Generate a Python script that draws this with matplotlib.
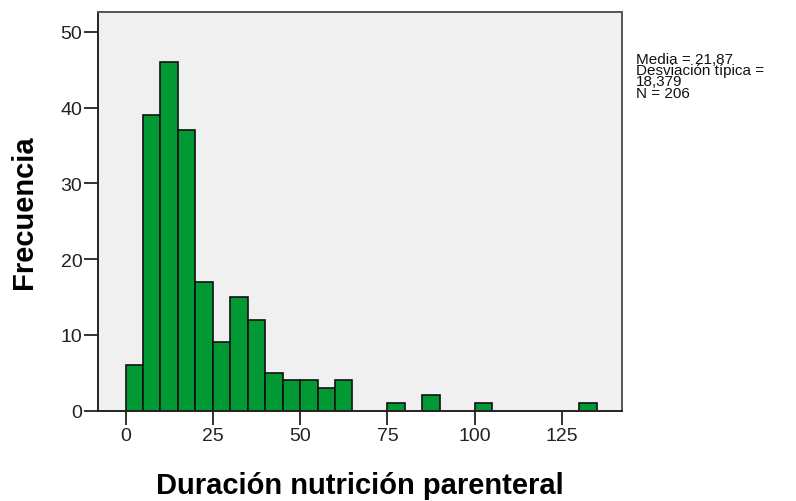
import numpy as np
import matplotlib
matplotlib.use("Agg")
import matplotlib.pyplot as plt

plt.rcParams['font.family'] = ['Liberation Sans', 'DejaVu Sans']

# =========================
# DATA (bin width 5)
# =========================
bin_left = [0, 5, 10, 15, 20, 25, 30, 35, 40, 45, 50, 55, 60, 75, 85, 100, 130]
counts = [6, 39, 46, 37, 17, 9, 15, 12, 5, 4, 4, 3, 4, 1, 2, 1, 1]
bin_width = 5
x_ticks = [0, 25, 50, 75, 100, 125]
y_ticks = [0, 10, 20, 30, 40, 50]
stats_lines = ["Media = 21,87", "Desviación típica =", "18,379", "N = 206"]

# =========================
# FIGURE
# =========================
fig = plt.figure(figsize=(7.96, 5.02), dpi=100)
ax = fig.add_axes([0.1235, 0.18, 0.6575, 0.7935])
ax.set_facecolor("#f0f0f0")

ax.bar(bin_left, counts, width=bin_width, align="edge",
       color="#009933", edgecolor="#111111", linewidth=1.2, zorder=2)

ax.set_xlim(-7.8, 142.1)
ax.set_ylim(0, 52.6)
ax.set_xticks(x_ticks)
ax.set_yticks(y_ticks)
ax.tick_params(direction="out", length=10, width=1.3, labelsize=14,
               color="#222222", labelcolor="#222222", pad=1.5)

for side in ["left", "bottom"]:
    ax.spines[side].set_color("#222222")
    ax.spines[side].set_linewidth(1.4)
for side in ["top", "right"]:
    ax.spines[side].set_color("#555555")
    ax.spines[side].set_linewidth(1.4)

ax.set_xlabel("Duración nutrición parenteral", fontsize=21, fontweight="bold", labelpad=20)
ax.set_ylabel("Frecuencia", fontsize=21, fontweight="bold", labelpad=16)

# stats text, lines packed tightly like the SPSS output
fig.text(0.799, 0.895, "\n".join(stats_lines), fontsize=11, va="top", ha="left",
         linespacing=0.76, color="#111111")

fig.savefig("out.png", dpi=100)
